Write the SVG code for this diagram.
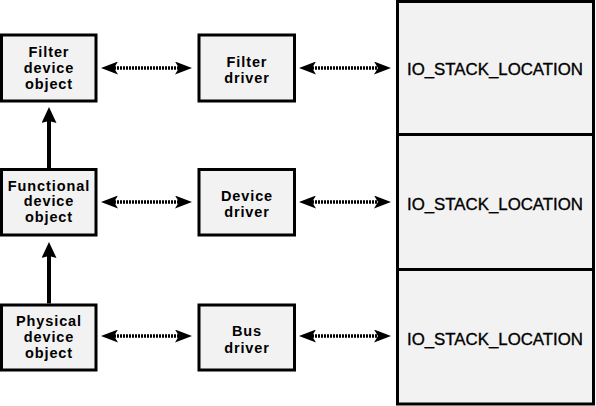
<svg xmlns="http://www.w3.org/2000/svg" width="596" height="406" viewBox="0 0 596 406">
<style>
.box{fill:#f2f2f2;stroke:#000;stroke-width:3}
.lbl{font-family:"Liberation Sans",Arial,sans-serif;font-weight:bold;font-size:14.5px;letter-spacing:0.9px;text-anchor:middle;fill:#000}
.io{font-family:"Liberation Sans",Arial,sans-serif;font-size:17px;text-anchor:middle;fill:#000;stroke:#000;stroke-width:0.35}
.dot{stroke:#000;stroke-width:3.5;stroke-dasharray:2 1;fill:none}
.up{stroke:#000;stroke-width:4;fill:none}
</style>
<defs>
<marker id="ah" viewBox="0 0 17 13" refX="4" refY="6.5" markerWidth="17" markerHeight="13" markerUnits="userSpaceOnUse" orient="auto-start-reverse">
<path d="M0,0 L17,6.5 L0,13 L4,6.5 Z" fill="#000"/>
</marker>
<marker id="vh" viewBox="0 0 16 15" refX="2" refY="7.5" markerWidth="16" markerHeight="15" markerUnits="userSpaceOnUse" orient="auto">
<path d="M0,0 L16,7.5 L0,15 L2,7.5 Z" fill="#000"/>
</marker>
</defs>
<g id="io-stack">
<rect class="box" x="397.5" y="1.5" width="196" height="402.5"/>
<line x1="397.5" y1="134.5" x2="593.5" y2="134.5" stroke="#000" stroke-width="3"/>
<line x1="397.5" y1="269.5" x2="593.5" y2="269.5" stroke="#000" stroke-width="3"/>
<text class="io" x="495" y="75" textLength="176" lengthAdjust="spacingAndGlyphs">IO_STACK_LOCATION</text>
<text class="io" x="495" y="210" textLength="176" lengthAdjust="spacingAndGlyphs">IO_STACK_LOCATION</text>
<text class="io" x="495" y="344.5" textLength="176" lengthAdjust="spacingAndGlyphs">IO_STACK_LOCATION</text>
</g>
<g id="filter-device-object">
<rect class="box" x="1.5" y="35" width="94.5" height="66"/>
<text class="lbl" x="49" y="57">Filter</text>
<text class="lbl" x="49" y="73">device</text>
<text class="lbl" x="49" y="88.5">object</text>
</g>
<g id="filter-driver">
<rect class="box" x="199" y="35" width="95.5" height="66"/>
<text class="lbl" x="247" y="66.5">Filter</text>
<text class="lbl" x="247" y="82.5">driver</text>
</g>
<g id="functional-device-object">
<rect class="box" x="1.5" y="169.5" width="94.5" height="65.5"/>
<text class="lbl" x="49" y="190.5">Functional</text>
<text class="lbl" x="49" y="206">device</text>
<text class="lbl" x="49" y="221.5">object</text>
</g>
<g id="device-driver">
<rect class="box" x="199" y="169.5" width="95.5" height="65.5"/>
<text class="lbl" x="247" y="200.5">Device</text>
<text class="lbl" x="247" y="217">driver</text>
</g>
<g id="physical-device-object">
<rect class="box" x="1.5" y="305" width="94.5" height="65"/>
<text class="lbl" x="49" y="326">Physical</text>
<text class="lbl" x="49" y="342">device</text>
<text class="lbl" x="49" y="357.5">object</text>
</g>
<g id="bus-driver">
<rect class="box" x="199" y="305" width="95.5" height="65"/>
<text class="lbl" x="247" y="336">Bus</text>
<text class="lbl" x="247" y="352.5">driver</text>
</g>
<g id="connectors">
<line class="dot" x1="114" y1="68" x2="179" y2="68" marker-start="url(#ah)" marker-end="url(#ah)"/>
<line class="dot" x1="312" y1="68" x2="378" y2="68" marker-start="url(#ah)" marker-end="url(#ah)"/>
<line class="dot" x1="114" y1="202" x2="179" y2="202" marker-start="url(#ah)" marker-end="url(#ah)"/>
<line class="dot" x1="312" y1="202" x2="378" y2="202" marker-start="url(#ah)" marker-end="url(#ah)"/>
<line class="dot" x1="114" y1="336" x2="179" y2="336" marker-start="url(#ah)" marker-end="url(#ah)"/>
<line class="dot" x1="312" y1="336" x2="378" y2="336" marker-start="url(#ah)" marker-end="url(#ah)"/>
<line class="up" x1="49" y1="168" x2="49" y2="121" marker-end="url(#vh)"/>
<line class="up" x1="49" y1="303.5" x2="49" y2="256" marker-end="url(#vh)"/>
</g>
</svg>
